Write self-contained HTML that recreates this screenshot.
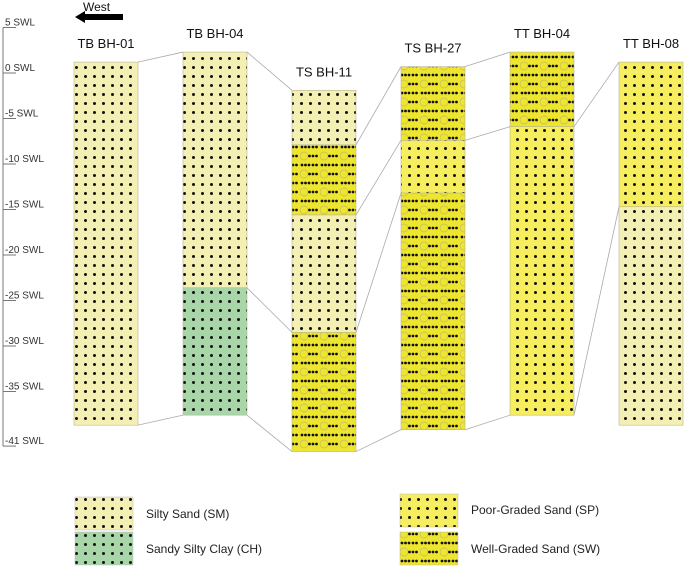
<!DOCTYPE html>
<html><head><meta charset="utf-8"><style>
body{margin:0;background:#fff;font-family:"Liberation Sans",Arial,sans-serif}
svg{display:block}
</style></head><body>
<svg id="chart" width="685" height="568" viewBox="0 0 685 568">
<defs>
<pattern id="pSM" width="9" height="9" patternUnits="userSpaceOnUse">
<rect width="9" height="9" fill="#f4efb2"/><circle cx="4.5" cy="4.5" r="1.5" fill="#111"/></pattern>
<pattern id="pCH" width="9" height="9" patternUnits="userSpaceOnUse">
<rect width="9" height="9" fill="#a8d6a8"/><circle cx="4.5" cy="4.5" r="1.5" fill="#111"/></pattern>
<pattern id="pSP" width="9" height="9" patternUnits="userSpaceOnUse">
<rect width="9" height="9" fill="#f6ee5e"/><circle cx="4.5" cy="4.5" r="1.5" fill="#111"/></pattern>
<pattern id="pSW" width="20" height="18" patternUnits="userSpaceOnUse">
<rect width="20" height="18" fill="#eee62e"/>
<circle cx="4" cy="12" r="4" fill="none" stroke="#c9c35a" stroke-width="0.9"/>
<circle cx="2" cy="3" r="1.4" fill="#111"/><circle cx="5.5" cy="3" r="1.4" fill="#111"/><circle cx="9" cy="3" r="1.4" fill="#111"/>
<circle cx="13" cy="3" r="1.4" fill="#111"/><circle cx="16.5" cy="3" r="1.4" fill="#111"/>
<circle cx="9.5" cy="12" r="1.4" fill="#111"/><circle cx="13" cy="12" r="1.4" fill="#111"/><circle cx="16.5" cy="12" r="1.4" fill="#111"/>
</pattern>
</defs>
<g id="axis"></g>
<g id="links"></g>
<g id="cols"></g>
<g>
<text x="83" y="11" font-size="12" fill="#111">West</text>
<polygon points="75,17 85,11 85,14 123,14 123,20 85,20 85,23" fill="#000"/>
</g>
<g id="legend" font-size="12" fill="#222">
<rect x="75" y="497" width="58" height="33" fill="url(#pSM)" stroke="#bbb" stroke-width="0.5"/>
<text x="146" y="518">Silty Sand (SM)</text>
<rect x="75" y="532" width="58" height="33" fill="url(#pCH)" stroke="#bbb" stroke-width="0.5"/>
<text x="146" y="553">Sandy Silty Clay (CH)</text>
<rect x="400" y="494" width="58" height="33" fill="url(#pSP)" stroke="#bbb" stroke-width="0.5"/>
<text x="471" y="514">Poor-Graded Sand (SP)</text>
<rect x="400" y="532" width="58" height="33" fill="url(#pSW)" stroke="#bbb" stroke-width="0.5"/>
<text x="471" y="553">Well-Graded Sand (SW)</text>
</g>
</svg>
<script>
const boreholes = ["TB BH-01","TB BH-04","TS BH-11","TS BH-27","TT BH-04","TT BH-08"];
const layerTops = [[1.2],[2.3,-23.6],[-1.9,-7.9,-15.6,-28.5],[0.7,-7.4,-13.2],[2.3,-5.9],[1.2,-14.7]];
const layerSoils = [["SM"],["SM","CH"],["SM","SW","SM","SW"],["SW","SP","SW"],["SW","SP"],["SP","SM"]];
const bottoms = [-38.7,-37.6,-41.6,-39.2,-37.6,-38.7];
const links = [[[0,0],[-1,-1]],[[0,0],[1,3],[-1,-1]],[[1,0],[2,1],[3,2],[-1,-1]],[[0,0],[1,1],[-1,-1]],[[1,0],[-1,1]]];
const tickValues = [5,0,-5,-10,-15,-20,-25,-30,-35,-41];
const tickLabels = ["5 SWL","0 SWL","-5 SWL","-10 SWL","-15 SWL","-20 SWL","-25 SWL","-30 SWL","-35 SWL","-41 SWL"];
const NS="http://www.w3.org/2000/svg";
function y(v){return 73-v*9.1;}
function xL(i){return 74+i*109;}
const W=64;
function mk(t,a,p){const e=document.createElementNS(NS,t);for(const k in a)e.setAttribute(k,a[k]);p.appendChild(e);return e;}
const ax=document.getElementById('axis');
const al=mk('line',{x1:3,y1:y(5),x2:3,y2:y(-41),stroke:'#777','stroke-width':1},ax);


tickValues.forEach((v,i)=>{
 const t=mk('line',{x1:3,y1:y(v),x2:16,y2:y(v),stroke:'#777','stroke-width':1},ax);
 
 
 const tx=mk('text',{x:5,y:y(v)-2,'font-size':10,fill:'#333'},ax);
 tx.textContent=tickLabels[i];
 
 
});
const cols=document.getElementById('cols');
const fills={SM:'url(#pSM)',CH:'url(#pCH)',SP:'url(#pSP)',SW:'url(#pSW)'};
function bounds(i){return layerTops[i].concat([bottoms[i]]);}
boreholes.forEach((name,i)=>{
 const g=mk('g',{},cols);
 
 
 const b=bounds(i);
 layerSoils[i].forEach((s,j)=>{
  const r=mk('rect',{x:xL(i),y:y(b[j]),width:W,height:y(b[j+1])-y(b[j]),fill:fills[s],stroke:'#b8b59a','stroke-width':0.6},g);
  
  
 });
 const t=mk('text',{x:xL(i)+W/2,y:y(b[0])-14,'font-size':13,'text-anchor':'middle',fill:'#111'},g);
 t.textContent=name;
 
 
});
const lg=document.getElementById('links');
links.forEach((arr,i)=>{
 const a=bounds(i),b=bounds(i+1);
 arr.forEach(([p,q])=>{
  const va=a[p<0?a.length+p:p],vb=b[q<0?b.length+q:q];
  const l=mk('line',{x1:xL(i)+W,y1:y(va),x2:xL(i+1),y2:y(vb),stroke:'#aaa','stroke-width':0.8},lg);
  
  
 });
});
</script>
</body></html>
